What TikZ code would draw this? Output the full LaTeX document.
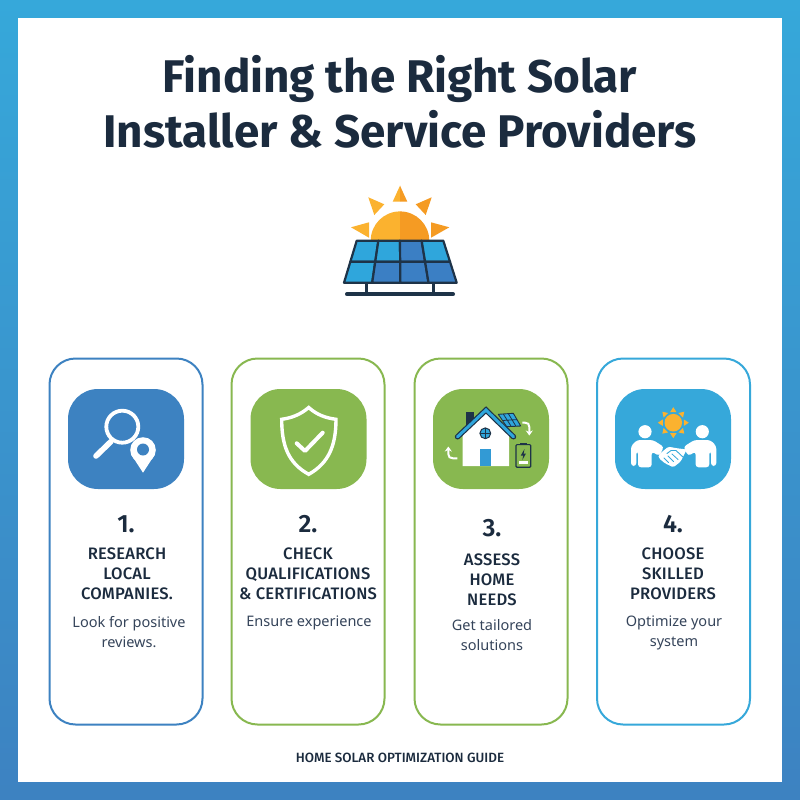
\documentclass[tikz,border=0pt]{standalone}
\usepackage{fontspec}
\setmainfont{Fira Sans}
\newfontfamily\titlefont{Fira Sans}
\newfontfamily\headfont[LetterSpace=1.2]{Fira Sans Medium}
\newfontfamily\numfont{Fira Sans SemiBold}
\newfontfamily\footfont{Fira Sans Medium}
\newfontfamily\descfont{Noto Sans}
\usetikzlibrary{arrows.meta,calc}
\definecolor{ink}{HTML}{1B2B3E}
\definecolor{descink}{HTML}{35445A}
\definecolor{cblue}{HTML}{3D82C1}
\definecolor{cgreen}{HTML}{88B850}
\definecolor{csky}{HTML}{36A8DA}
\definecolor{sunl}{HTML}{FBB22F}
\definecolor{sunr}{HTML}{F59B23}
\definecolor{pdark}{HTML}{1E3348}
\definecolor{plight}{HTML}{2FA6DC}
\definecolor{pmid}{HTML}{3B7FC4}
\tikzset{
 x=1pt,y=-1pt,
 card/.style={draw=#1,line width=2pt,fill=white,rounded corners=26pt,minimum width=153pt,minimum height=366pt,inner sep=0pt},
 tile/.style={fill=#1,rounded corners=30pt,minimum width=116pt,minimum height=100pt,inner sep=0pt},
 num/.style={anchor=base,text=ink,inner sep=0pt,font=\numfont\fontsize{25}{28}\selectfont},
 head/.style={anchor=north,align=center,text=ink,inner sep=0pt,font=\headfont\fontsize{16.6}{20}\selectfont},
 desc/.style={anchor=north,align=center,text=descink,inner sep=0pt,font=\descfont\fontsize{14.5}{20}\selectfont},
 cell/.style={fill=#1,draw=pdark,line width=2.2pt,line join=round},
 ray/.style={fill=#1},
 wline/.style={draw=white,line cap=round,line join=round}
}
\begin{document}
\begin{tikzpicture}
\useasboundingbox (0,0) rectangle (800,800);
\shade[top color=csky,bottom color=cblue] (0,0) rectangle (800,800);
\fill[white] (18,18) rectangle (782,782);
\node[anchor=base,inner sep=0pt,text=ink,align=center,font=\titlefont\bfseries\fontsize{45.8}{55}\selectfont] (title) at (400,147) {Finding the Right Solar\\Installer \& Service Providers};
% sun
\fill[sunl] (370.7,240.7) arc[start angle=180,end angle=90,radius=29.3pt] -- (400,240.7) -- cycle;
\fill[sunr] (400,240.7) -- (400,211.4) arc[start angle=90,end angle=0,radius=29.3pt] -- cycle;
\fill[sunl] (400,185.7) -- (392.7,201.7) -- (400,201.7) -- cycle;
\fill[sunr] (400,185.7) -- (407.3,201.7) -- (400,201.7) -- cycle;
\fill[sunl] (368.3,197.3) -- (384.3,204.3) -- (374.3,215) -- cycle;
\fill[sunl] (351,227.3) -- (369,222.3) -- (369,237.7) -- cycle;
\fill[sunr] (431.7,197.3) -- (415.7,204.3) -- (425.7,215) -- cycle;
\fill[sunr] (449.3,227.3) -- (431,222.3) -- (431,237.7) -- cycle;
% panel
\draw[pdark,line width=3pt] (366.7,283) -- (366.7,294) (433.3,283) -- (433.3,294);
\draw[pdark,line width=4pt,line cap=round] (347,294.3) -- (453,294.3);
\path[cell=plight] (356.7,240.7) -- (378.35,240.7) -- (375.26,261.7) -- (350.35,261.7) -- cycle;
\path[cell=plight] (378.35,240.7) -- (400,240.7) -- (400.18,261.7) -- (375.26,261.7) -- cycle;
\path[cell=pmid] (400,240.7) -- (421.65,240.7) -- (425.09,261.7) -- (400.18,261.7) -- cycle;
\path[cell=plight] (421.65,240.7) -- (443.3,240.7) -- (450,261.7) -- (425.09,261.7) -- cycle;
\path[cell=plight] (350.35,261.7) -- (375.26,261.7) -- (372.2,282.7) -- (344,282.7) -- cycle;
\path[cell=pmid] (375.26,261.7) -- (400.18,261.7) -- (400.35,282.7) -- (372.2,282.7) -- cycle;
\path[cell=pmid] (400.18,261.7) -- (425.09,261.7) -- (428.5,282.7) -- (400.35,282.7) -- cycle;
\path[cell=pmid] (425.09,261.7) -- (450,261.7) -- (456.7,282.7) -- (428.5,282.7) -- cycle;
% cards
\node[card=cblue] (card1) at (126,541.5) {};
\node[card=cgreen] (card2) at (308,541.5) {};
\node[card=cgreen] (card3) at (491,541.5) {};
\node[card=csky] (card4) at (673.5,541.5) {};
\node[tile=cblue] (tile1) at (126,439) {};
\node[tile=cgreen] (tile2) at (308.5,439) {};
\node[tile=cgreen] (tile3) at (491,439) {};
\node[tile=csky] (tile4) at (673,439) {};
% magnifier
\draw[wline,line width=3.8pt] (122.3,426.7) circle[radius=16pt];
\draw[wline,line width=5.6pt] (111,441.5) -- (96,456);
\fill[white] (130.9,454) -- (143,472.7) -- (155.1,454) -- cycle;
\fill[white] (143,450) circle[radius=12.8pt];
\fill[cblue] (143,449.5) circle[radius=6pt];
% shield
\draw[wline,line width=3.4pt,line join=miter] (308.7,407.5) .. controls (300,415) and (291,418) .. (281.7,419.3) .. controls (281.7,445) and (288,463) .. (308.7,474.3) .. controls (329,463) and (336,445) .. (336,419.3) .. controls (326,418) and (317,415) .. (308.7,407.5) -- cycle;
\draw[wline,line width=4pt] (296.7,443.3) -- (305,451) -- (322.7,432.7);
% house
\fill[pdark] (465.7,412) rectangle (474.3,428);
\fill[white] (462.7,432) -- (486,411) -- (509,432) -- (509,466) -- (462.7,466) -- cycle;
\fill[plight!70!pmid] (480,449.3) rectangle (490.7,466);
\draw[pdark,line width=5.4pt,line join=miter,line cap=round] (457.5,436.8) -- (486,410) -- (513.5,436.8);
\draw[plight,line width=3pt,line join=miter,line cap=round] (457.5,436.8) -- (486,410) -- (513.5,436.8);
\filldraw[fill=plight,draw=pdark,line width=1pt] (485.3,433.3) circle[radius=5.4pt];
\draw[pdark,line width=.8pt] (480,433.3) -- (490.6,433.3) (485.3,428) -- (485.3,438.6);
\path[cell=plight,line width=.9pt] (498.3,414.3) -- (513.3,413.3) -- (520.7,426) -- (506.7,426.7) -- cycle;
\draw[pdark,line width=.8pt] (502.6,420.5) -- (517,419.6) (503.3,414) -- (511.3,426.5) (508.3,413.6) -- (516,426.3);
\draw[white,line width=2pt,-{Stealth[length=5pt,width=7pt]}] (522.3,422.7) -- (525,422.7) .. controls (528,422.7) and (529.3,424) .. (529.3,427) -- (529.3,435.5);
\draw[white,line width=2pt,-{Stealth[length=5pt,width=7pt]}] (457.3,458.3) -- (453,458.3) .. controls (450,458.3) and (448.3,457) .. (448.3,454) -- (448.3,446.5);
% battery
\fill[pdark] (520,442.6) rectangle (526.7,445);
\draw[pdark,line width=1.2pt,rounded corners=1pt] (516,444.6) rectangle (530.7,467.3);
\fill[pdark] (524.5,449) -- (520.8,455.5) -- (523.2,455.5) -- (522.3,460) -- (526,453.5) -- (523.6,453.5) -- cycle;
\fill[white] (518.7,461) rectangle (528,464.3);
% handshake
\fill[sunl] (673.3,422.7) circle[radius=8.8pt];
\foreach \a in {0,45,...,315}{
 \fill[sunl] ($(673.3,422.7)+(\a:15.5pt)$) -- ($(673.3,422.7)+(\a+17:11pt)$) -- ($(673.3,422.7)+(\a-17:11pt)$) -- cycle;
}
\foreach \mx/\ms in {0pt/1,1347.3pt/-1}{
\begin{scope}[xshift=\mx,xscale=\ms]
 \fill[white] (645,431.7) circle[radius=6.6pt];
 \fill[white,rounded corners=3pt] (631,466) -- (631,446) -- (637,440) -- (653,440) -- (664,447) -- (659,456) -- (651.7,451.5) -- (651.7,467.3) -- (638,467.3) -- (638,451) -- (636.3,451) -- (636.3,466) -- cycle;
\end{scope}}
\fill[white,rounded corners=1.5pt] (658.3,455) -- (668.3,446.7) -- (677.3,448.3) -- (686.7,449.5) -- (680.5,461.7) -- (673.3,467.3) -- (665,463.3) -- (659,458.3) -- cycle;
\draw[csky,line width=.9pt,line cap=round] (667,453.5) -- (671,450.5) -- (676,450.5) -- (684,458);
\draw[csky,line width=.8pt,line cap=round] (664,458) -- (668.5,462.5) (668,456) -- (673.5,461.5) (672,454) -- (678,459.5);
% texts
\node[num] (n1) at (126,532) {1.};
\node[head] (h1) at (127,548) {RESEARCH\\LOCAL\\COMPANIES.};
\node[desc] (d1) at (129,616) {Look for positive\\reviews.};
\node[num] (n2) at (308,532) {2.};
\node[head] (h2) at (308,548) {CHECK\\QUALIFICATIONS\\\& CERTIFICATIONS};
\node[desc] (d2) at (309,616) {Ensure experience};
\node[num] (n3) at (492,536) {3.};
\node[head] (h3) at (492,553.5) {ASSESS\\HOME\\NEEDS};
\node[desc] (d3) at (492,619) {Get tailored\\solutions};
\node[num] (n4) at (673,532) {4.};
\node[head] (h4) at (673,548) {CHOOSE\\SKILLED\\PROVIDERS};
\node[desc] (d4) at (674,616) {Optimize your\\system};
\node[anchor=base,inner sep=0pt,text=ink,font=\footfont\fontsize{13.4}{15}\selectfont] (foot) at (400,762) {HOME SOLAR OPTIMIZATION GUIDE};
\end{tikzpicture}
\end{document}
